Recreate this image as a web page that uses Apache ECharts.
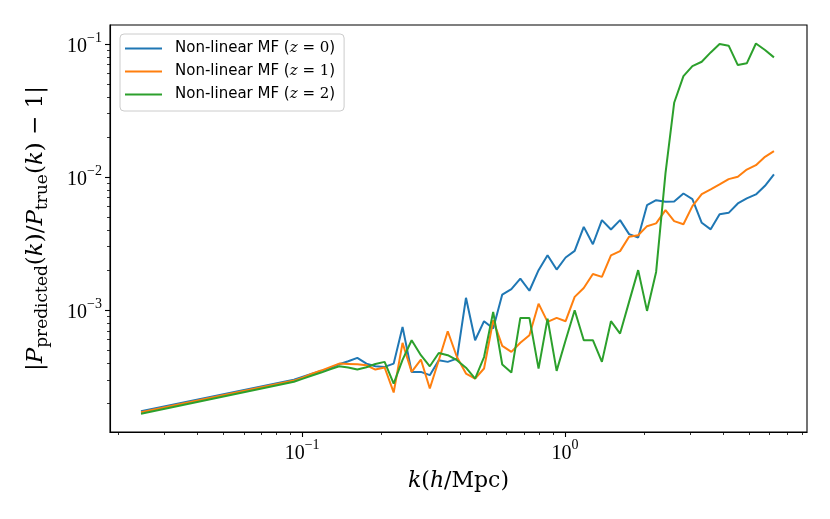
<!DOCTYPE html>
<html>
<head>
<meta charset="utf-8">
<script src="https://cdn.jsdelivr.net/npm/echarts@6/dist/echarts.min.js"></script>
<style>
  html, body { margin: 0; padding: 0; background: #fff; }
  #chart { width: 830px; height: 519px; }
</style>
</head>
<body>
<div id="chart"></div>
<script>
// -----------------------------------------------------------------------------
// Data
// -----------------------------------------------------------------------------
const kValues = [
  0.0244,
  0.0931, 0.1008, 0.1091, 0.1181, 0.1278, 0.1384, 0.1498, 0.1622, 0.1757, 0.190,
  0.206, 0.223, 0.241, 0.261, 0.283, 0.306, 0.331, 0.358, 0.388, 0.420,
  0.455, 0.492, 0.533, 0.577, 0.625, 0.676, 0.732, 0.793, 0.858, 0.929,
  1.005, 1.088, 1.178, 1.276, 1.381, 1.495, 1.619, 1.752, 1.897, 2.05,
  2.22, 2.41, 2.60, 2.82, 3.05, 3.31, 3.58, 3.87, 4.19, 4.54,
  4.91, 5.32, 5.76, 6.23
];

const errZ0 = [
  1.74e-4,
  3.01e-4, 3.17e-4, 3.33e-4, 3.50e-4, 3.67e-4,
  3.93e-4, 4.14e-4, 4.38e-4, 3.97e-4, 3.79e-4,
  3.75e-4, 3.97e-4, 7.49e-4, 3.44e-4, 3.44e-4,
  3.25e-4, 4.21e-4, 4.09e-4, 4.33e-4, 1.24e-3,
  5.95e-4, 8.27e-4, 7.28e-4, 1.31e-3, 1.44e-3,
  1.73e-3, 1.40e-3, 2.00e-3, 2.59e-3, 2.02e-3,
  2.49e-3, 2.79e-3, 4.23e-3, 3.13e-3, 4.75e-3,
  4.04e-3, 4.75e-3, 3.73e-3, 3.52e-3, 6.15e-3,
  6.71e-3, 6.52e-3, 6.56e-3, 7.53e-3, 6.84e-3,
  4.54e-3, 4.05e-3, 5.27e-3, 5.39e-3, 6.34e-3,
  6.92e-3, 7.41e-3, 8.61e-3, 1.05e-2
];

const errZ1 = [
  1.71e-4,
  2.96e-4, 3.13e-4, 3.33e-4, 3.52e-4, 3.74e-4,
  3.97e-4, 3.95e-4, 3.93e-4, 3.86e-4, 3.58e-4,
  3.71e-4, 2.41e-4, 5.68e-4, 3.44e-4, 4.26e-4,
  2.58e-4, 4.21e-4, 6.95e-4, 4.45e-4, 3.34e-4,
  3.06e-4, 3.65e-4, 8.41e-4, 5.39e-4, 4.86e-4,
  5.69e-4, 6.49e-4, 1.12e-3, 8.17e-4, 8.75e-4,
  8.27e-4, 1.26e-3, 1.47e-3, 1.87e-3, 1.78e-3,
  2.58e-3, 2.78e-3, 3.56e-3, 3.66e-3, 4.28e-3,
  4.49e-3, 5.65e-3, 4.67e-3, 4.43e-3, 6.05e-3,
  7.45e-3, 8.08e-3, 8.81e-3, 9.66e-3, 1.005e-2,
  1.14e-2, 1.23e-2, 1.42e-2, 1.57e-2
];

const errZ2 = [
  1.67e-4,
  2.90e-4, 3.06e-4, 3.23e-4, 3.40e-4, 3.59e-4,
  3.79e-4, 3.71e-4, 3.58e-4, 3.73e-4, 3.95e-4,
  4.09e-4, 2.81e-4, 4.23e-4, 5.95e-4, 4.59e-4,
  3.79e-4, 4.77e-4, 4.59e-4, 4.21e-4, 3.70e-4,
  3.06e-4, 4.45e-4, 9.71e-4, 3.91e-4, 3.40e-4,
  8.75e-4, 8.75e-4, 3.64e-4, 8.65e-4, 3.50e-4,
  5.95e-4, 1.0e-3, 5.95e-4, 5.95e-4, 4.09e-4,
  8.27e-4, 6.68e-4, 1.155e-3, 2.0e-3, 9.88e-4,
  1.94e-3, 1.07e-2, 3.62e-2, 5.74e-2, 6.83e-2,
  7.36e-2, 8.65e-2, 1.0e-1, 9.72e-2, 6.95e-2,
  7.16e-2, 1.01e-1, 9.02e-2, 7.94e-2
];

const seriesNames = [
  "Non-linear MF (z = 0)",
  "Non-linear MF (z = 1)",
  "Non-linear MF (z = 2)",
];
const seriesColors = ["#1f77b4", "#ff7f0e", "#2ca02c"];

// axis ranges and tick values
const xRange = [0.0186, 8.32];
const yRange = [1.216e-4, 0.139];
const xMajorTicks = [0.1, 1];
const xMinorTicks = [
  0.02, 0.03, 0.04, 0.05, 0.06, 0.07, 0.08, 0.09,
  0.2, 0.3, 0.4, 0.5, 0.6, 0.7, 0.8, 0.9,
  2, 3, 4, 5, 6, 7, 8,
];
const yMajorTicks = [0.001, 0.01, 0.1];
const yMinorTicks = [
  0.0002, 0.0003, 0.0004, 0.0005, 0.0006, 0.0007, 0.0008, 0.0009,
  0.002, 0.003, 0.004, 0.005, 0.006, 0.007, 0.008, 0.009,
  0.02, 0.03, 0.04, 0.05, 0.06, 0.07, 0.08, 0.09,
];

// -----------------------------------------------------------------------------
// Chart
// -----------------------------------------------------------------------------
const SERIF = "'Liberation Serif', 'DejaVu Serif', serif";
const MATH = "'DejaVu Serif', serif";
const SANS = "'DejaVu Sans', sans-serif";
const chart = echarts.init(document.getElementById("chart"), null, { renderer: "canvas" });

const lg = (arr) => arr.map((v) => Math.log10(v));

const tickRich = {
  b: { fontFamily: SERIF, fontSize: 20, color: "#000", verticalAlign: "bottom", lineHeight: 26 },
  e: { fontFamily: SERIF, fontSize: 14, color: "#000", verticalAlign: "top", lineHeight: 14 },
};
const powLabel = (v) => {
  const p = Math.round(v);
  return "{b|10}{e|" + (p < 0 ? "\u2212" + (-p) : p) + "}";
};

const nameRich = {
  r: { fontFamily: MATH, fontSize: 22, color: "#000", verticalAlign: "middle", lineHeight: 30 },
  i: { fontFamily: MATH, fontSize: 22, fontStyle: "italic", color: "#000", verticalAlign: "middle", lineHeight: 30 },
  s: { fontFamily: MATH, fontSize: 16, color: "#000", verticalAlign: "bottom", lineHeight: 20 },
};
const yNameRich = {
  r: { ...nameRich.r, fontSize: 23 },
  i: { ...nameRich.i, fontSize: 23 },
  s: { ...nameRich.s, fontSize: 17 },
};

// the visible axes carry ticks and labels in log10 space over the same extent
const tickAxis = (range, major, minor) => [
  {
    type: "value",
    min: Math.log10(range[0]),
    max: Math.log10(range[1]),
    axisLine: { show: true, onZero: false, lineStyle: { color: "#000", width: 1.1 } },
    axisTick: { show: true, inside: false, length: 5, customValues: lg(major), lineStyle: { color: "#000", width: 1.1 } },
    axisLabel: { show: true, customValues: lg(major), margin: 8, formatter: powLabel, rich: tickRich },
    splitLine: { show: false },
  },
  {
    type: "value",
    min: Math.log10(range[0]),
    max: Math.log10(range[1]),
    axisLine: { show: false, onZero: false },
    axisTick: { show: true, inside: false, length: 3, customValues: lg(minor), lineStyle: { color: "#000", width: 0.8 } },
    axisLabel: { show: false },
    splitLine: { show: false },
  },
];

const xTickAxes = tickAxis(xRange, xMajorTicks, xMinorTicks);
const yTickAxes = tickAxis(yRange, yMajorTicks, yMinorTicks);

Object.assign(xTickAxes[0], {
  position: "bottom",
  name: "{i|k}{r|(}{i|h}{r|/Mpc)}",
  nameLocation: "middle",
  nameGap: 34,
  nameTextStyle: { rich: nameRich },
});
xTickAxes[0].axisLabel.margin = 6;
xTickAxes[1].position = "bottom";

Object.assign(yTickAxes[0], {
  position: "left",
  name: "{r||}{i|P}{s|predicted}{r|(}{i|k}{r|)/}{i|P}{s|true}{r|(}{i|k}{r|) \u2212 1|}",
  nameLocation: "middle",
  nameGap: 59,
  nameTextStyle: { rich: yNameRich },
});
yTickAxes[1].position = "left";

const errSets = [errZ0, errZ1, errZ2];

const option = {
  animation: false,
  backgroundColor: "#fff",
  grid: {
    left: 110,
    right: 23,
    top: 25,
    bottom: 87,
    show: true,
    borderColor: "#000",
    borderWidth: 1.1,
    outerBoundsMode: "none",
  },
  legend: {
    orient: "vertical",
    left: 120,
    top: 34,
    padding: [7, 9, 9, 5],
    icon: "rect",
    itemWidth: 37,
    itemHeight: 2,
    itemGap: 8,
    backgroundColor: "rgba(255,255,255,0.8)",
    borderColor: "#cccccc",
    borderWidth: 1,
    borderRadius: 4,
    data: seriesNames,
    formatter: (n) => {
      const z = n.match(/z = (\d)/)[1];
      return "{t|Non-linear MF (}{m|z}{r| = " + z + "}{t|)}";
    },
    textStyle: {
      padding: [0, 0, 0, 8],
      rich: {
        t: { fontFamily: SANS, fontSize: 15, color: "#000", lineHeight: 17 },
        m: { fontFamily: MATH, fontSize: 15, fontStyle: "italic", color: "#000", lineHeight: 17 },
        r: { fontFamily: MATH, fontSize: 15, color: "#000", lineHeight: 17 },
      },
    },
  },
  xAxis: [
    {
      type: "log",
      logBase: 10,
      min: xRange[0],
      max: xRange[1],
      axisLine: { show: false },
      axisTick: { show: false },
      axisLabel: { show: false },
      splitLine: { show: false },
    },
    ...xTickAxes,
  ],
  yAxis: [
    {
      type: "log",
      logBase: 10,
      min: yRange[0],
      max: yRange[1],
      axisLine: { show: false },
      axisTick: { show: false },
      axisLabel: { show: false },
      splitLine: { show: false },
    },
    ...yTickAxes,
  ],
  series: seriesNames.map((name, i) => ({
    name,
    type: "line",
    xAxisIndex: 0,
    yAxisIndex: 0,
    showSymbol: false,
    symbol: "none",
    lineStyle: { color: seriesColors[i], width: 2 },
    itemStyle: { color: seriesColors[i] },
    data: kValues.map((k, j) => [k, errSets[i][j]]),
  })),
};

chart.setOption(option);
</script>
</body>
</html>
